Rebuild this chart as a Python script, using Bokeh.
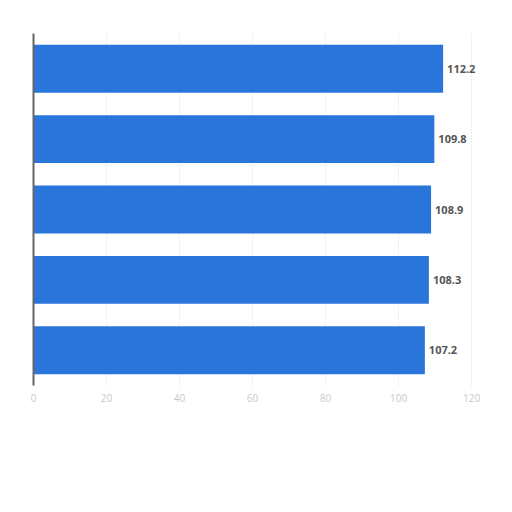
from bokeh.plotting import figure
from bokeh.models import ColumnDataSource, FactorRange, Range1d, FixedTicker, LinearAxis, CategoricalAxis, LabelSet
from bokeh.embed import file_html
from bokeh.resources import INLINE
from bokeh.core.properties import value

categories = ["Item 1", "Item 2", "Item 3", "Item 4", "Item 5"]
values = [112.2, 109.8, 108.9, 108.3, 107.2]
labels = ["112.2", "109.8", "108.9", "108.3", "107.2"]
x_ticks = [0, 20, 40, 60, 80, 100, 120]

source = ColumnDataSource(dict(cat=categories, val=values, lab=labels))

p = figure(width=496, height=496, output_backend="svg", toolbar_location=None,
           y_range=FactorRange(*reversed(categories), range_padding=0),
           x_range=Range1d(0, 126),
           x_axis_location=None, y_axis_location=None,
           min_border_left=33, min_border_right=3, min_border_top=33, min_border_bottom=111)
p.outline_line_color = None
p.background_fill_color = "white"

p.hbar(y="cat", right="val", left=0, height=0.68, source=source,
       fill_color="#2975d9", line_color=None)

lbls = LabelSet(x="val", y="cat", text="lab", source=source, x_offset=4,
                text_baseline="middle", text_align="left", text_font=value("Open Sans"),
                text_font_size=value("11px"), text_font_style=value("bold"),
                text_color=value("#555555"))
p.add_layout(lbls)

xaxis = LinearAxis(ticker=FixedTicker(ticks=x_ticks))
xaxis.axis_line_color = None
xaxis.major_tick_line_color = None
xaxis.minor_tick_line_color = None
xaxis.major_label_text_color = "#c8c8c8"
xaxis.major_label_text_font_size = "10px"
xaxis.major_label_text_font = "Open Sans"
xaxis.major_label_standoff = 2
p.add_layout(xaxis, "below")

ya = CategoricalAxis()
ya.axis_line_color = "#666666"
ya.axis_line_width = 2
ya.major_tick_line_color = None
ya.minor_tick_line_color = None
ya.major_label_text_font_size = "0px"
ya.major_label_text_color = None
p.add_layout(ya, "left")

p.xgrid.ticker = FixedTicker(ticks=x_ticks)
p.xgrid.grid_line_color = "#d8d8d8"
p.xgrid.grid_line_dash = "1 2"
p.ygrid.grid_line_color = None

open("out.html", "w").write(file_html(p, INLINE))
